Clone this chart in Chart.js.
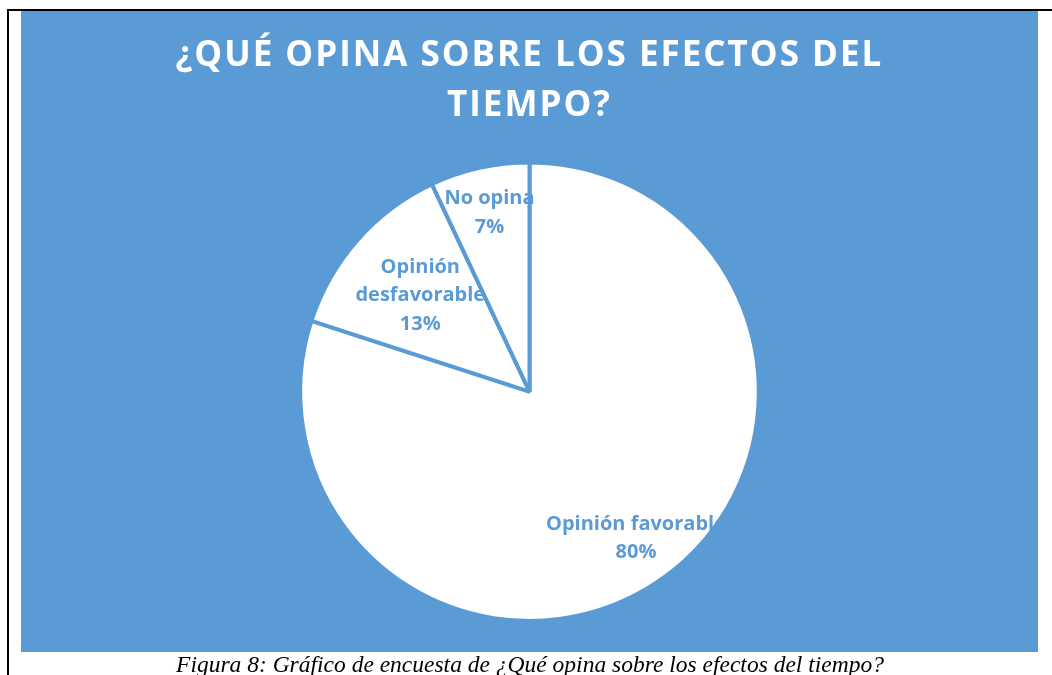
<!DOCTYPE html>
<html>
<head>
<meta charset="utf-8">
<script src="https://cdn.jsdelivr.net/npm/chart.js@4.4.1/dist/chart.umd.min.js"></script>
<style>
  body { margin: 0; background: #fff; width: 1052px; height: 675px; overflow: hidden; position: relative; }
  #marco { position: absolute; left: 7px; top: 9px; width: 1045px; height: 670px; border-left: 2px solid #000; border-top: 2px solid #000; }
  #caja { position: absolute; left: 21px; top: 11px; width: 1017px; height: 641px; background: #5B9BD5; }
  #pie-fig { position: absolute; left: 0; top: 652px; width: 1060px; text-align: center; white-space: nowrap;
             font-family: "Liberation Serif", "DejaVu Serif", serif; font-style: italic; font-size: 23.5px; line-height: 24px; color: #000; }
</style>
</head>
<body>
<div id="marco"></div>
<div id="caja"><canvas id="graficoTiempo"></canvas></div>
<div id="pie-fig">Figura 8: Gráfico de encuesta de ¿Qué opina sobre los efectos del tiempo?</div>
<script>
var categorias = ['Opinión favorable', 'Opinión desfavorable', 'No opina'];
var etiquetas = [['Opinión favorable', '80%'], ['Opinión', 'desfavorable', '13%'], ['No opina', '7%']];
var valores = [80, 13, 7];
var titulo = ['¿QUÉ OPINA SOBRE LOS EFECTOS DEL', 'TIEMPO?'];

var azul = '#5B9BD5';
// distancia radial de cada etiqueta (fraccion del radio)
var distEtiqueta = [0.79, 0.635, 0.80];

var etiquetasPlugin = {
    id: 'etiquetas',
    beforeDraw: function (chart) {
        chart.ctx.letterSpacing = '2px';
    },
    beforeDatasetsDraw: function (chart) {
        chart.ctx.letterSpacing = '0px';
    },
    afterDatasetsDraw: function (chart) {
        var ctx = chart.ctx;
        var meta = chart.getDatasetMeta(0);
        ctx.save();
        ctx.fillStyle = azul;
        ctx.font = 'bold 20px "Open Sans", sans-serif';
        ctx.textAlign = 'center';
        ctx.textBaseline = 'middle';
        meta.data.forEach(function (arc, i) {
            var p = arc.getProps(['x', 'y', 'startAngle', 'endAngle', 'outerRadius'], true);
            var a = (p.startAngle + p.endAngle) / 2;
            var r = p.outerRadius * distEtiqueta[i];
            var cx = p.x + Math.cos(a) * r;
            var cy = p.y + Math.sin(a) * r;
            var lineas = etiquetas[i];
            var lh = 28.5;
            lineas.forEach(function (t, k) {
                ctx.fillText(t, cx, cy + (k - (lineas.length - 1) / 2) * lh);
            });
        });
        ctx.restore();
    }
};

var ctx = document.getElementById('graficoTiempo').getContext('2d');
var graficoTiempo = new Chart(ctx, {
    type: 'pie',
    data: {
        labels: categorias,
        datasets: [
            {
                data: valores,
                backgroundColor: '#ffffff',
                borderColor: azul,
                borderWidth: 4,
                borderAlign: 'center'
            }
        ]
    },
    options: {
        responsive: true,
        maintainAspectRatio: false,
        animation: false,
        layout: {
            padding: { top: 0, bottom: 29, left: 0, right: 0 }
        },
        plugins: {
            legend: { display: false },
            tooltip: { enabled: false },
            title: {
                display: true,
                text: titulo,
                color: '#ffffff',
                font: { family: '"Open Sans", sans-serif', size: 35, weight: 'bold', lineHeight: 1.42 },
                padding: { top: 20, bottom: 30 }
            }
        }
    },
    plugins: [etiquetasPlugin]
});
</script>
</body>
</html>
